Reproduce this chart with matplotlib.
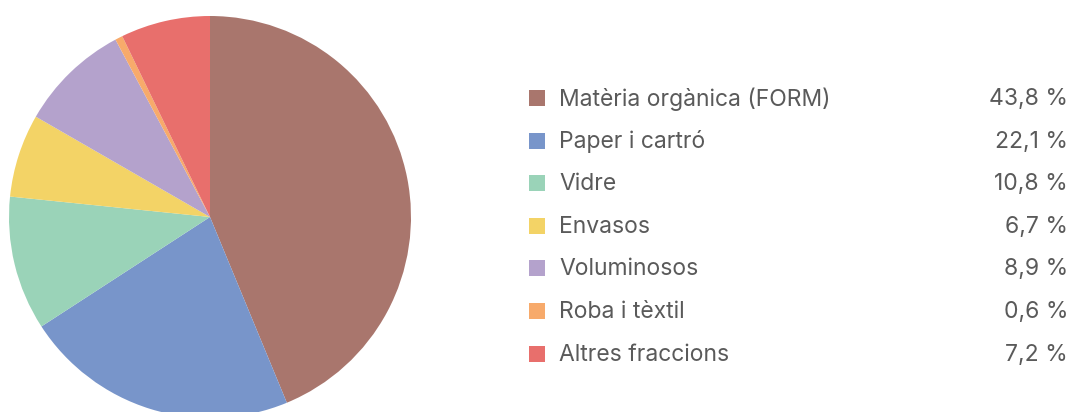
import matplotlib
matplotlib.use('Agg')
import matplotlib.pyplot as plt
from matplotlib.patches import Rectangle

categories = ['Matèria orgànica (FORM)', 'Paper i cartró', 'Vidre', 'Envasos',
              'Voluminosos', 'Roba i tèxtil', 'Altres fraccions']
values = [43.8, 22.1, 10.8, 6.7, 8.9, 0.6, 7.2]
labels = ['43,8 %', '22,1 %', '10,8 %', '6,7 %', '8,9 %', '0,6 %', '7,2 %']
colors = ['#A9766D', '#7895CA', '#9AD3B8', '#F3D366', '#B4A2CC', '#F7AA6B', '#E86F6C']

W, H = 1072, 412
fig = plt.figure(figsize=(W / 100, H / 100), dpi=100)

# pie: centre ~(210, 217) px, radius ~201 px
cx, cy, r = 210, 217, 201
ax = fig.add_axes([(cx - r) / W, (H - cy - r) / H, 2 * r / W, 2 * r / H])
ax.pie(values, colors=colors, startangle=90, counterclock=False,
       wedgeprops=dict(linewidth=0), radius=1)
ax.set_xlim(-1, 1)
ax.set_ylim(-1, 1)
ax.set_aspect('equal')
ax.axis('off')

# legend drawn in figure pixel coords
txt = '#5a5a5a'
font = 'Inter'
y0, dy = 98, 42.6
for i, (c, lab, pct) in enumerate(zip(colors, categories, labels)):
    y = y0 + i * dy
    fig.patches.append(Rectangle(((529) / W, (H - y - 8) / H), 16 / W, 16 / H,
                                 transform=fig.transFigure, color=c, lw=0))
    fig.text(559 / W, (H - y - 1) / H, lab, ha='left', va='center',
             fontsize=16.5, color=txt, family=font)
    fig.text(1068 / W, (H - y - 1) / H, pct, ha='right', va='center',
             fontsize=16.5, color=txt, family=font)

fig.savefig('out.png', dpi=100)
